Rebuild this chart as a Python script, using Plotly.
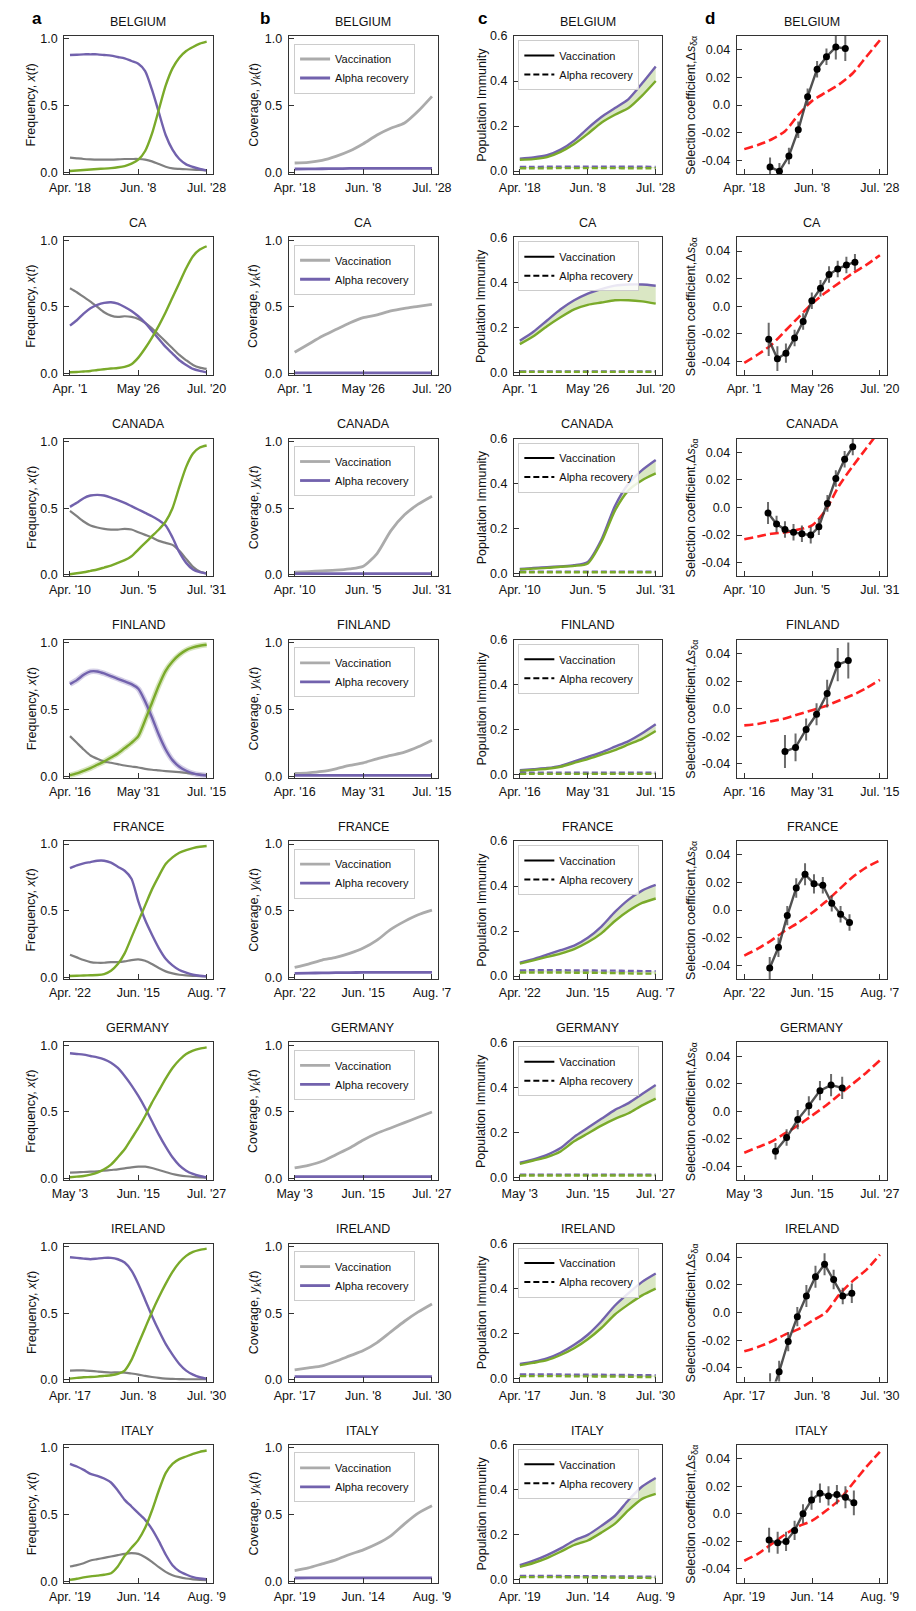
import plotly.graph_objects as go

W, H = 916, 1611
FONT = "Liberation Sans, Arial, Helvetica, sans-serif"
PURPLE = "#7262ad"
GREEN = "#7aaa2a"
GRAY_A = "#808080"
GRAY_B = "#ababab"
RED = "#ff2020"
FILL_SOLID = "rgba(122,170,42,0.28)"
FILL_DASH = "rgba(122,170,42,0.18)"

COUNTRIES = ["BELGIUM", "CA", "CANADA", "FINLAND", "FRANCE", "GERMANY", "IRELAND", "ITALY"]
SPAN_DAYS = {"BELGIUM": 101, "CA": 110, "CANADA": 112, "FINLAND": 90,
             "FRANCE": 107, "GERMANY": 85, "IRELAND": 104, "ITALY": 112}
X_TICK_LABELS = {
    "BELGIUM": ["Apr. '18", "Jun. '8", "Jul. '28"],
    "CA": ["Apr. '1", "May '26", "Jul. '20"],
    "CANADA": ["Apr. '10", "Jun. '5", "Jul. '31"],
    "FINLAND": ["Apr. '16", "May '31", "Jul. '15"],
    "FRANCE": ["Apr. '22", "Jun. '15", "Aug. '7"],
    "GERMANY": ["May '3", "Jun. '15", "Jul. '27"],
    "IRELAND": ["Apr. '17", "Jun. '8", "Jul. '30"],
    "ITALY": ["Apr. '19", "Jun. '14", "Aug. '9"],
}

# sampling positions as fraction of each country's date span
FRAC21 = [0.0, 0.05, 0.1, 0.15, 0.2, 0.25, 0.3, 0.35, 0.4, 0.45, 0.5,
          0.55, 0.6, 0.65, 0.7, 0.75, 0.8, 0.85, 0.9, 0.95, 1.0]
FRAC11 = [0.0, 0.1, 0.2, 0.3, 0.4, 0.5, 0.6, 0.7, 0.8, 0.9, 1.0]

# ---- panel a: frequency x(t) ----
FREQ_ALPHA = {
    "BELGIUM": [0.88, 0.882, 0.885, 0.885, 0.885, 0.88, 0.875, 0.865, 0.855, 0.835, 0.815, 0.76, 0.62, 0.45, 0.28, 0.17, 0.10, 0.06, 0.04, 0.025, 0.015],
    "CA": [0.36, 0.40, 0.45, 0.49, 0.515, 0.53, 0.535, 0.525, 0.50, 0.47, 0.43, 0.38, 0.32, 0.26, 0.20, 0.15, 0.10, 0.065, 0.035, 0.02, 0.01],
    "CANADA": [0.51, 0.54, 0.575, 0.595, 0.60, 0.595, 0.58, 0.56, 0.54, 0.515, 0.49, 0.465, 0.44, 0.41, 0.37, 0.28, 0.17, 0.09, 0.04, 0.02, 0.01],
    "FINLAND": [0.69, 0.72, 0.76, 0.785, 0.785, 0.77, 0.75, 0.73, 0.71, 0.69, 0.655, 0.56, 0.44, 0.31, 0.20, 0.12, 0.07, 0.04, 0.02, 0.01, 0.005],
    "FRANCE": [0.82, 0.84, 0.855, 0.865, 0.875, 0.875, 0.86, 0.83, 0.80, 0.74, 0.57, 0.43, 0.32, 0.22, 0.14, 0.09, 0.055, 0.035, 0.02, 0.012, 0.008],
    "GERMANY": [0.94, 0.935, 0.93, 0.92, 0.91, 0.895, 0.87, 0.83, 0.77, 0.70, 0.62, 0.53, 0.43, 0.33, 0.24, 0.16, 0.10, 0.06, 0.035, 0.02, 0.01],
    "IRELAND": [0.92, 0.915, 0.91, 0.905, 0.91, 0.915, 0.915, 0.905, 0.88, 0.82, 0.72, 0.60, 0.48, 0.37, 0.27, 0.19, 0.12, 0.07, 0.04, 0.02, 0.01],
    "ITALY": [0.88, 0.86, 0.835, 0.805, 0.79, 0.77, 0.74, 0.68, 0.61, 0.56, 0.51, 0.46, 0.39, 0.30, 0.20, 0.12, 0.075, 0.05, 0.03, 0.02, 0.015],
}
FREQ_DELTA = {
    "BELGIUM": [0.01, 0.014, 0.018, 0.021, 0.025, 0.028, 0.032, 0.038, 0.047, 0.065, 0.095, 0.16, 0.29, 0.47, 0.65, 0.78, 0.86, 0.91, 0.94, 0.965, 0.98],
    "CA": [0.01, 0.012, 0.016, 0.02, 0.027, 0.033, 0.038, 0.042, 0.05, 0.07, 0.12, 0.19, 0.27, 0.36, 0.46, 0.57, 0.68, 0.79, 0.88, 0.93, 0.955],
    "CANADA": [0.005, 0.012, 0.02, 0.03, 0.04, 0.055, 0.07, 0.09, 0.11, 0.14, 0.19, 0.24, 0.29, 0.34, 0.40, 0.50, 0.66, 0.81, 0.91, 0.955, 0.97],
    "FINLAND": [0.005, 0.02, 0.04, 0.06, 0.085, 0.11, 0.14, 0.17, 0.21, 0.25, 0.30, 0.42, 0.55, 0.68, 0.79, 0.86, 0.91, 0.945, 0.965, 0.978, 0.985],
    "FRANCE": [0.01, 0.012, 0.014, 0.016, 0.018, 0.025, 0.05, 0.10, 0.18, 0.30, 0.42, 0.54, 0.66, 0.76, 0.85, 0.90, 0.935, 0.955, 0.97, 0.98, 0.985],
    "GERMANY": [0.01, 0.015, 0.02, 0.03, 0.045, 0.07, 0.105, 0.16, 0.22, 0.30, 0.38, 0.47, 0.57, 0.66, 0.75, 0.83, 0.89, 0.935, 0.96, 0.975, 0.985],
    "IRELAND": [0.01, 0.015, 0.02, 0.022, 0.025, 0.03, 0.035, 0.045, 0.07, 0.15, 0.27, 0.39, 0.51, 0.62, 0.72, 0.81, 0.88, 0.93, 0.96, 0.975, 0.985],
    "ITALY": [0.01, 0.018, 0.028, 0.036, 0.042, 0.048, 0.06, 0.11, 0.19, 0.25, 0.31, 0.40, 0.53, 0.68, 0.81, 0.88, 0.915, 0.935, 0.955, 0.97, 0.98],
}
FREQ_OTHER = {
    "BELGIUM": [0.11, 0.105, 0.10, 0.097, 0.095, 0.095, 0.095, 0.097, 0.10, 0.10, 0.10, 0.095, 0.082, 0.062, 0.042, 0.03, 0.026, 0.023, 0.02, 0.018, 0.015],
    "CA": [0.64, 0.61, 0.575, 0.54, 0.50, 0.46, 0.435, 0.425, 0.43, 0.425, 0.41, 0.38, 0.34, 0.29, 0.24, 0.19, 0.14, 0.10, 0.065, 0.045, 0.035],
    "CANADA": [0.48, 0.44, 0.40, 0.37, 0.355, 0.345, 0.34, 0.34, 0.345, 0.34, 0.32, 0.30, 0.28, 0.255, 0.24, 0.225, 0.18, 0.12, 0.06, 0.025, 0.01],
    "FINLAND": [0.30, 0.25, 0.20, 0.155, 0.13, 0.11, 0.10, 0.09, 0.08, 0.072, 0.065, 0.055, 0.048, 0.043, 0.038, 0.034, 0.03, 0.025, 0.018, 0.012, 0.008],
    "FRANCE": [0.17, 0.15, 0.13, 0.115, 0.11, 0.11, 0.115, 0.115, 0.12, 0.13, 0.135, 0.125, 0.10, 0.07, 0.045, 0.03, 0.02, 0.015, 0.012, 0.01, 0.008],
    "GERMANY": [0.045, 0.047, 0.05, 0.052, 0.055, 0.06, 0.065, 0.07, 0.077, 0.085, 0.09, 0.09, 0.08, 0.065, 0.05, 0.035, 0.025, 0.018, 0.013, 0.01, 0.008],
    "IRELAND": [0.07, 0.072, 0.072, 0.068, 0.063, 0.058, 0.055, 0.057, 0.055, 0.048, 0.04, 0.03, 0.022, 0.015, 0.01, 0.008, 0.006, 0.005, 0.005, 0.005, 0.005],
    "ITALY": [0.11, 0.12, 0.135, 0.155, 0.165, 0.175, 0.185, 0.195, 0.205, 0.21, 0.205, 0.18, 0.145, 0.105, 0.07, 0.045, 0.03, 0.02, 0.014, 0.01, 0.008],
}

# ---- panel b: coverage y_k(t) ----
COV_VACC = {
    "BELGIUM": [0.07, 0.075, 0.09, 0.12, 0.16, 0.215, 0.28, 0.33, 0.37, 0.46, 0.57],
    "CA": [0.16, 0.22, 0.28, 0.33, 0.38, 0.42, 0.44, 0.47, 0.49, 0.505, 0.52],
    "CANADA": [0.02, 0.025, 0.03, 0.035, 0.045, 0.065, 0.16, 0.33, 0.45, 0.53, 0.59],
    "FINLAND": [0.02, 0.025, 0.035, 0.055, 0.08, 0.10, 0.13, 0.155, 0.18, 0.22, 0.27],
    "FRANCE": [0.075, 0.10, 0.13, 0.15, 0.18, 0.22, 0.28, 0.36, 0.42, 0.47, 0.505],
    "GERMANY": [0.08, 0.10, 0.13, 0.18, 0.23, 0.29, 0.34, 0.38, 0.42, 0.46, 0.50],
    "IRELAND": [0.075, 0.09, 0.105, 0.14, 0.18, 0.22, 0.28, 0.36, 0.44, 0.51, 0.57],
    "ITALY": [0.08, 0.10, 0.13, 0.16, 0.20, 0.235, 0.28, 0.34, 0.43, 0.51, 0.565],
}
COV_ALPHA = {
    "BELGIUM": [0.025, 0.026, 0.027, 0.028, 0.029, 0.03, 0.03, 0.03, 0.03, 0.03, 0.03],
    "CA": [0.006, 0.006, 0.006, 0.006, 0.006, 0.006, 0.006, 0.006, 0.006, 0.006, 0.006],
    "CANADA": [0.01, 0.01, 0.01, 0.01, 0.01, 0.01, 0.01, 0.01, 0.01, 0.01, 0.01],
    "FINLAND": [0.006, 0.006, 0.006, 0.006, 0.006, 0.006, 0.006, 0.006, 0.006, 0.006, 0.006],
    "FRANCE": [0.03, 0.032, 0.034, 0.035, 0.036, 0.037, 0.037, 0.038, 0.038, 0.038, 0.038],
    "GERMANY": [0.015, 0.015, 0.015, 0.015, 0.015, 0.015, 0.015, 0.015, 0.015, 0.015, 0.015],
    "IRELAND": [0.024, 0.025, 0.025, 0.025, 0.025, 0.025, 0.025, 0.025, 0.025, 0.025, 0.025],
    "ITALY": [0.024, 0.025, 0.025, 0.025, 0.025, 0.025, 0.025, 0.025, 0.025, 0.025, 0.025],
}

# ---- panel c: population immunity ----
IMM_VACC_ALPHA = {
    "BELGIUM": [0.055, 0.06, 0.07, 0.095, 0.135, 0.19, 0.24, 0.28, 0.32, 0.39, 0.465],
    "CA": [0.14, 0.18, 0.23, 0.28, 0.32, 0.35, 0.37, 0.385, 0.39, 0.39, 0.385],
    "CANADA": [0.02, 0.025, 0.028, 0.032, 0.037, 0.052, 0.15, 0.30, 0.40, 0.46, 0.505],
    "FINLAND": [0.02, 0.025, 0.03, 0.04, 0.06, 0.08, 0.10, 0.125, 0.15, 0.185, 0.225],
    "FRANCE": [0.06, 0.075, 0.095, 0.115, 0.135, 0.17, 0.22, 0.285, 0.34, 0.38, 0.405],
    "GERMANY": [0.065, 0.08, 0.10, 0.13, 0.18, 0.22, 0.26, 0.30, 0.33, 0.37, 0.41],
    "IRELAND": [0.065, 0.075, 0.09, 0.115, 0.15, 0.195, 0.255, 0.325, 0.38, 0.43, 0.467],
    "ITALY": [0.065, 0.085, 0.11, 0.14, 0.175, 0.20, 0.24, 0.285, 0.355, 0.415, 0.453],
}
IMM_VACC_DELTA = {
    "BELGIUM": [0.05, 0.053, 0.062, 0.085, 0.12, 0.165, 0.215, 0.25, 0.28, 0.335, 0.40],
    "CA": [0.125, 0.16, 0.205, 0.245, 0.28, 0.30, 0.31, 0.32, 0.32, 0.315, 0.305],
    "CANADA": [0.018, 0.022, 0.025, 0.03, 0.034, 0.045, 0.14, 0.28, 0.37, 0.415, 0.445],
    "FINLAND": [0.017, 0.022, 0.027, 0.036, 0.053, 0.07, 0.09, 0.11, 0.135, 0.16, 0.195],
    "FRANCE": [0.055, 0.07, 0.085, 0.10, 0.12, 0.15, 0.19, 0.245, 0.29, 0.325, 0.345],
    "GERMANY": [0.06, 0.075, 0.09, 0.115, 0.16, 0.195, 0.23, 0.26, 0.285, 0.32, 0.35],
    "IRELAND": [0.06, 0.07, 0.082, 0.105, 0.135, 0.175, 0.225, 0.285, 0.33, 0.37, 0.40],
    "ITALY": [0.058, 0.075, 0.097, 0.125, 0.155, 0.175, 0.21, 0.25, 0.31, 0.36, 0.382],
}
IMM_REC_ALPHA = {
    "BELGIUM": [0.018, 0.018, 0.019, 0.019, 0.019, 0.019, 0.019, 0.019, 0.019, 0.019, 0.018],
    "CA": [0.004, 0.004, 0.004, 0.004, 0.004, 0.004, 0.004, 0.004, 0.004, 0.004, 0.004],
    "CANADA": [0.008, 0.008, 0.008, 0.008, 0.008, 0.008, 0.008, 0.008, 0.008, 0.008, 0.008],
    "FINLAND": [0.009, 0.009, 0.009, 0.009, 0.009, 0.009, 0.009, 0.009, 0.009, 0.009, 0.009],
    "FRANCE": [0.025, 0.026, 0.026, 0.026, 0.025, 0.025, 0.024, 0.024, 0.023, 0.022, 0.022],
    "GERMANY": [0.012, 0.012, 0.012, 0.012, 0.012, 0.012, 0.012, 0.012, 0.012, 0.012, 0.012],
    "IRELAND": [0.018, 0.018, 0.018, 0.018, 0.017, 0.017, 0.017, 0.016, 0.016, 0.015, 0.015],
    "ITALY": [0.017, 0.017, 0.017, 0.017, 0.016, 0.016, 0.016, 0.015, 0.015, 0.014, 0.014],
}
IMM_REC_DELTA = {
    "BELGIUM": [0.012, 0.012, 0.012, 0.013, 0.013, 0.013, 0.013, 0.013, 0.012, 0.012, 0.012],
    "CA": [0.002, 0.002, 0.002, 0.002, 0.002, 0.002, 0.002, 0.002, 0.002, 0.002, 0.002],
    "CANADA": [0.006, 0.006, 0.006, 0.006, 0.006, 0.006, 0.006, 0.006, 0.006, 0.006, 0.006],
    "FINLAND": [0.004, 0.004, 0.004, 0.004, 0.004, 0.004, 0.004, 0.004, 0.004, 0.004, 0.004],
    "FRANCE": [0.016, 0.016, 0.016, 0.016, 0.015, 0.015, 0.014, 0.013, 0.012, 0.011, 0.011],
    "GERMANY": [0.008, 0.008, 0.008, 0.008, 0.008, 0.008, 0.008, 0.008, 0.008, 0.008, 0.008],
    "IRELAND": [0.011, 0.011, 0.011, 0.011, 0.010, 0.010, 0.009, 0.009, 0.008, 0.007, 0.007],
    "ITALY": [0.012, 0.012, 0.012, 0.012, 0.011, 0.011, 0.010, 0.010, 0.009, 0.009, 0.008],
}

# ---- panel d: selection coefficient ----
SEL_MODEL = {
    "BELGIUM": [-0.032, -0.029, -0.025, -0.019, -0.007, 0.003, 0.009, 0.015, 0.023, 0.035, 0.047],
    "CA": [-0.041, -0.035, -0.028, -0.018, -0.008, 0.002, 0.010, 0.017, 0.024, 0.030, 0.037],
    "CANADA": [-0.023, -0.021, -0.019, -0.018, -0.016, -0.013, -0.002, 0.016, 0.030, 0.043, 0.056],
    "FINLAND": [-0.012, -0.011, -0.009, -0.007, -0.004, -0.001, 0.002, 0.006, 0.010, 0.015, 0.021],
    "FRANCE": [-0.033, -0.028, -0.022, -0.015, -0.009, -0.002, 0.006, 0.015, 0.024, 0.031, 0.036],
    "GERMANY": [-0.030, -0.026, -0.022, -0.016, -0.010, -0.003, 0.004, 0.012, 0.020, 0.028, 0.037],
    "IRELAND": [-0.028, -0.025, -0.021, -0.016, -0.012, -0.006, 0.0, 0.013, 0.023, 0.031, 0.042],
    "ITALY": [-0.034, -0.029, -0.022, -0.015, -0.009, -0.005, 0.002, 0.010, 0.022, 0.034, 0.045],
}
SEL_OBS_FRAC = {
    "BELGIUM": [0.19, 0.259, 0.329, 0.398, 0.467, 0.537, 0.606, 0.675, 0.745],
    "CA": [0.18, 0.244, 0.307, 0.371, 0.434, 0.498, 0.562, 0.625, 0.689, 0.753, 0.816],
    "CANADA": [0.175, 0.238, 0.30, 0.363, 0.425, 0.49, 0.55, 0.613, 0.675, 0.74, 0.80],
    "FINLAND": [0.30, 0.378, 0.456, 0.533, 0.611, 0.689, 0.767],
    "FRANCE": [0.1875, 0.252, 0.317, 0.383, 0.448, 0.514, 0.579, 0.645, 0.71, 0.776],
    "GERMANY": [0.23, 0.312, 0.394, 0.476, 0.558, 0.64, 0.722],
    "IRELAND": [0.19, 0.257, 0.324, 0.391, 0.458, 0.525, 0.592, 0.659, 0.726, 0.793],
    "ITALY": [0.183, 0.246, 0.308, 0.371, 0.433, 0.496, 0.558, 0.621, 0.683, 0.746, 0.808],
}
SEL_OBS = {
    "BELGIUM": [-0.045, -0.048, -0.037, -0.018, 0.006, 0.026, 0.035, 0.042, 0.041],
    "CA": [-0.024, -0.038, -0.034, -0.023, -0.011, 0.004, 0.013, 0.023, 0.027, 0.030, 0.032],
    "CANADA": [-0.004, -0.012, -0.016, -0.018, -0.019, -0.020, -0.014, 0.003, 0.021, 0.035, 0.044],
    "FINLAND": [-0.031, -0.028, -0.015, -0.004, 0.011, 0.032, 0.035],
    "FRANCE": [-0.042, -0.027, -0.004, 0.016, 0.026, 0.019, 0.018, 0.005, -0.003, -0.009],
    "GERMANY": [-0.029, -0.019, -0.006, 0.004, 0.015, 0.019, 0.017],
    "IRELAND": [-0.062, -0.043, -0.021, -0.003, 0.012, 0.026, 0.035, 0.024, 0.012, 0.014],
    "ITALY": [-0.019, -0.021, -0.020, -0.012, 0.000, 0.010, 0.015, 0.013, 0.014, 0.012, 0.008],
}
SEL_OBS_ERR = {
    "BELGIUM": [0.007, 0.006, 0.006, 0.006, 0.006, 0.006, 0.006, 0.009, 0.009],
    "CA": [0.012, 0.009, 0.007, 0.006, 0.006, 0.006, 0.006, 0.006, 0.006, 0.006, 0.006],
    "CANADA": [0.008, 0.006, 0.006, 0.006, 0.006, 0.006, 0.006, 0.006, 0.006, 0.006, 0.006],
    "FINLAND": [0.012, 0.010, 0.008, 0.008, 0.010, 0.012, 0.013],
    "FRANCE": [0.008, 0.007, 0.007, 0.007, 0.008, 0.007, 0.006, 0.006, 0.006, 0.006],
    "GERMANY": [0.006, 0.006, 0.007, 0.007, 0.007, 0.008, 0.008],
    "IRELAND": [0.018, 0.008, 0.007, 0.007, 0.008, 0.008, 0.008, 0.007, 0.006, 0.007],
    "ITALY": [0.009, 0.008, 0.007, 0.007, 0.007, 0.007, 0.007, 0.007, 0.007, 0.008, 0.009],
}
BANDED_COUNTRIES = ["FINLAND"]

Y_TICKS_FREQ = [0.0, 0.5, 1.0]
Y_TICKTEXT_FREQ = ["0.0", "0.5", "1.0"]
Y_TICKS_IMM = [0.0, 0.2, 0.4, 0.6]
Y_TICKTEXT_IMM = ["0.0", "0.2", "0.4", "0.6"]
Y_TICKS_SEL = [-0.04, -0.02, 0.0, 0.02, 0.04]
Y_TICKTEXT_SEL = ["-0.04", "-0.02", "0.0", "0.02", "0.04"]

Y_LABELS = ["Frequency, <i>x</i>(<i>t</i>)",
            "Coverage, <i>y<sub>k</sub></i>(<i>t</i>)",
            "Population Immunity",
            "Selection coefficient,Δ<i>s</i><sub>δα</sub>"]
PANEL_LETTERS = ["a", "b", "c", "d"]

# ---------------- layout geometry (pixels) ----------------
COL_X = [(50.7, 204.0), (282.7, 436.7), (515.3, 667.7), (745.3, 901.0)]
YLABEL_X = [17.0, 247.5, 482.0, 699.0]
LETTER_X = [16.0, 251.0, 476.0, 710.0]
ROW_TOP0, ROW_STEP, BOX_H = 29.3, 202.9, 139.0
X_PAD = [0.043, 0.043, 0.043, 0.056]
Y_RANGES = [[-0.012, 1.022], [-0.012, 1.022], [-0.013, 0.6], [-0.05, 0.05]]


def fx(px):
    return px / W


def fy(py):
    return 1 - py / H


fig = go.Figure()
layout = dict(width=W, height=H, margin=dict(l=0, r=0, t=0, b=0),
              paper_bgcolor="white", plot_bgcolor="white",
              font=dict(family=FONT, size=12.5, color="#111111"),
              showlegend=True)
annotations = []
AX_COLOR = "#333333"


def add_line(xr, yr, xs, ys, color, width, dash=None, opacity=1.0, **kw):
    fig.add_trace(go.Scatter(
        x=xs, y=ys, xaxis=xr, yaxis=yr, mode="lines",
        line=dict(color=color, width=width, dash=dash, shape="spline", smoothing=0.7),
        opacity=opacity, showlegend=kw.pop("showlegend", False), hoverinfo="skip", **kw))


def legend_style(left_px, top_px):
    return dict(x=fx(left_px), y=fy(top_px), xanchor="left", yanchor="top",
                bgcolor="rgba(255,255,255,0.85)", bordercolor="#cccccc",
                borderwidth=1, font=dict(size=11, family=FONT, color="#111111"),
                itemwidth=30, tracegroupgap=0, traceorder="normal",
                itemclick=False, itemdoubleclick=False)


legend_count = 0
for r, ctry in enumerate(COUNTRIES):
    span = SPAN_DAYS[ctry]
    top = ROW_TOP0 + r * ROW_STEP
    bot = top + BOX_H
    x21 = [f * span for f in FRAC21]
    x11 = [f * span for f in FRAC11]
    for c in range(4):
        n = r * 4 + c + 1
        xk = "xaxis" if n == 1 else f"xaxis{n}"
        yk = "yaxis" if n == 1 else f"yaxis{n}"
        xr = "x" if n == 1 else f"x{n}"
        yr = "y" if n == 1 else f"y{n}"
        left, right = COL_X[c]
        pad = X_PAD[c] * span
        if c in (0, 1):
            ytv, ytt = Y_TICKS_FREQ, Y_TICKTEXT_FREQ
        elif c == 2:
            ytv, ytt = Y_TICKS_IMM, Y_TICKTEXT_IMM
        else:
            ytv, ytt = Y_TICKS_SEL, Y_TICKTEXT_SEL
        layout[xk] = dict(domain=[fx(left), fx(right)], anchor=yr,
                          range=[-pad, span + pad],
                          tickvals=[0, span / 2, span], ticktext=X_TICK_LABELS[ctry],
                          ticks="inside", ticklen=5, tickwidth=1, tickcolor=AX_COLOR,
                          showline=True, linecolor=AX_COLOR, linewidth=1, mirror=True,
                          showgrid=False, zeroline=False, ticklabelstandoff=2,
                          tickfont=dict(size=12.5, family=FONT, color="#111111"))
        layout[yk] = dict(domain=[fy(bot), fy(top)], anchor=xr,
                          range=Y_RANGES[c], tickvals=ytv, ticktext=ytt,
                          ticks="inside", ticklen=5, tickwidth=1, tickcolor=AX_COLOR,
                          showline=True, linecolor=AX_COLOR, linewidth=1, mirror=True,
                          showgrid=False, zeroline=False, ticklabelstandoff=3,
                          tickfont=dict(size=12.5, family=FONT, color="#111111"))
        # subplot title
        annotations.append(dict(text=ctry, x=fx((left + right) / 2), y=fy(top - 14.5),
                                xref="paper", yref="paper", showarrow=False,
                                xanchor="center", yanchor="middle",
                                font=dict(size=12.5, family=FONT, color="#111111")))
        # y label
        annotations.append(dict(text=Y_LABELS[c], x=fx(YLABEL_X[c]), y=fy((top + bot) / 2),
                                xref="paper", yref="paper", showarrow=False, textangle=-90,
                                xanchor="center", yanchor="middle",
                                font=dict(size=12.5, family=FONT, color="#111111")))

        if c == 0:
            if ctry in BANDED_COUNTRIES:
                add_line(xr, yr, x21, FREQ_ALPHA[ctry], PURPLE, 5.5, opacity=0.3)
                add_line(xr, yr, x21, FREQ_DELTA[ctry], GREEN, 5.5, opacity=0.3)
            add_line(xr, yr, x21, FREQ_OTHER[ctry], GRAY_A, 2.2)
            add_line(xr, yr, x21, FREQ_ALPHA[ctry], PURPLE, 2.4)
            add_line(xr, yr, x21, FREQ_DELTA[ctry], GREEN, 2.4)
        elif c == 1:
            legend_count += 1
            lname = "legend" if legend_count == 1 else f"legend{legend_count}"
            add_line(xr, yr, x11, COV_VACC[ctry], GRAY_B, 2.8, name="Vaccination",
                     legend=lname, showlegend=True)
            add_line(xr, yr, x11, COV_ALPHA[ctry], PURPLE, 2.8, name="Alpha recovery",
                     legend=lname, showlegend=True)
            layout[lname] = legend_style(left + 5.5, top + 7.5)
        elif c == 2:
            legend_count += 1
            lname = f"legend{legend_count}"
            add_line(xr, yr, x11, IMM_VACC_ALPHA[ctry], PURPLE, 2.4)
            add_line(xr, yr, x11, IMM_VACC_DELTA[ctry], GREEN, 2.4,
                     fill="tonexty", fillcolor=FILL_SOLID)
            add_line(xr, yr, x11, IMM_REC_ALPHA[ctry], PURPLE, 2.4, dash="6px,3px")
            add_line(xr, yr, x11, IMM_REC_DELTA[ctry], GREEN, 2.4, dash="6px,3px",
                     fill="tonexty", fillcolor=FILL_DASH)
            fig.add_trace(go.Scatter(x=[None], y=[None], xaxis=xr, yaxis=yr, mode="lines",
                                     line=dict(color="black", width=2), name="Vaccination",
                                     legend=lname, showlegend=True))
            fig.add_trace(go.Scatter(x=[None], y=[None], xaxis=xr, yaxis=yr, mode="lines",
                                     line=dict(color="black", width=2, dash="6px,3px"),
                                     name="Alpha recovery", legend=lname, showlegend=True))
            layout[lname] = legend_style(left + 4.5, top + 4.0)
        else:
            add_line(xr, yr, x11, SEL_MODEL[ctry], RED, 2.6, dash="9px,4px")
            xo = [f * span for f in SEL_OBS_FRAC[ctry]]
            fig.add_trace(go.Scatter(
                x=xo, y=SEL_OBS[ctry], xaxis=xr, yaxis=yr, mode="lines+markers",
                line=dict(color="rgba(50,50,50,0.85)", width=2.4),
                marker=dict(color="black", size=7),
                error_y=dict(type="data", array=SEL_OBS_ERR[ctry], color="rgba(70,70,70,0.8)",
                             thickness=2, width=0),
                showlegend=False, hoverinfo="skip"))

# panel letters
for c in range(4):
    annotations.append(dict(text=f"<b>{PANEL_LETTERS[c]}</b>", x=fx(LETTER_X[c]), y=fy(12),
                            xref="paper", yref="paper", showarrow=False,
                            xanchor="left", yanchor="middle",
                            font=dict(size=17, family=FONT, color="black")))

layout["annotations"] = annotations
fig.update_layout(**layout)
fig.write_html("out.html")
